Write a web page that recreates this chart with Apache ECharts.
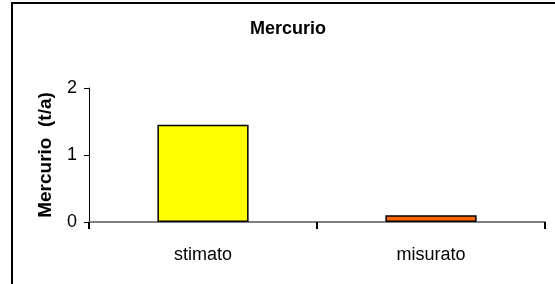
<!DOCTYPE html>
<html>
<head>
<meta charset="utf-8">
<script src="https://cdn.jsdelivr.net/npm/echarts@6/dist/echarts.min.js"></script>
<style>
  html, body { margin: 0; padding: 0; background: #fff; }
  #chart { width: 555px; height: 284px; }
</style>
</head>
<body>
<div id="chart"></div>
<script>
const categories = ['stimato', 'misurato'];
const values = [1.45, 0.1];
const barColors = ['#FFFF00', '#FF6600'];
const yTicks = [0, 1, 2];

const font = '"Liberation Sans", Arial, sans-serif';
const chart = echarts.init(document.getElementById('chart'));

chart.setOption({
  animation: false,
  title: {
    text: 'Mercurio',
    left: 245,
    top: 15,
    textStyle: { fontFamily: font, fontSize: 18, fontWeight: 'bold', color: '#000' }
  },
  graphic: [{
    type: 'rect',
    shape: { x: 12, y: 3, width: 580, height: 320 },
    style: { fill: 'none', stroke: '#000', lineWidth: 2 },
    silent: true
  }],
  grid: { left: 89, right: 10, top: 88, bottom: 62 },
  xAxis: {
    type: 'category',
    data: categories,
    axisLine: { lineStyle: { color: '#808080', width: 2 } },
    axisTick: { show: true, alignWithLabel: false, length: 7, lineStyle: { color: '#000', width: 2 } },
    axisLabel: { margin: 24, fontFamily: font, fontSize: 18, color: '#000' },
    splitLine: { show: false }
  },
  yAxis: {
    type: 'value',
    min: yTicks[0],
    max: yTicks[yTicks.length - 1],
    interval: 1,
    name: 'Mercurio  (t/a)',
    nameLocation: 'middle',
    nameGap: 34,
    nameTextStyle: { fontFamily: font, fontSize: 19, fontWeight: 'bold', color: '#000' },
    axisLine: { show: true, lineStyle: { color: '#000', width: 1 } },
    axisTick: { show: true, length: 5, lineStyle: { color: '#000' } },
    axisLabel: { margin: 12, fontFamily: font, fontSize: 18, color: '#000' },
    splitLine: { show: false }
  },
  series: [{
    type: 'bar',
    barWidth: '40%',
    data: values.map((v, i) => ({
      value: v,
      itemStyle: { color: barColors[i], borderColor: '#000', borderWidth: 1.5 }
    }))
  }]
});
</script>
</body>
</html>
